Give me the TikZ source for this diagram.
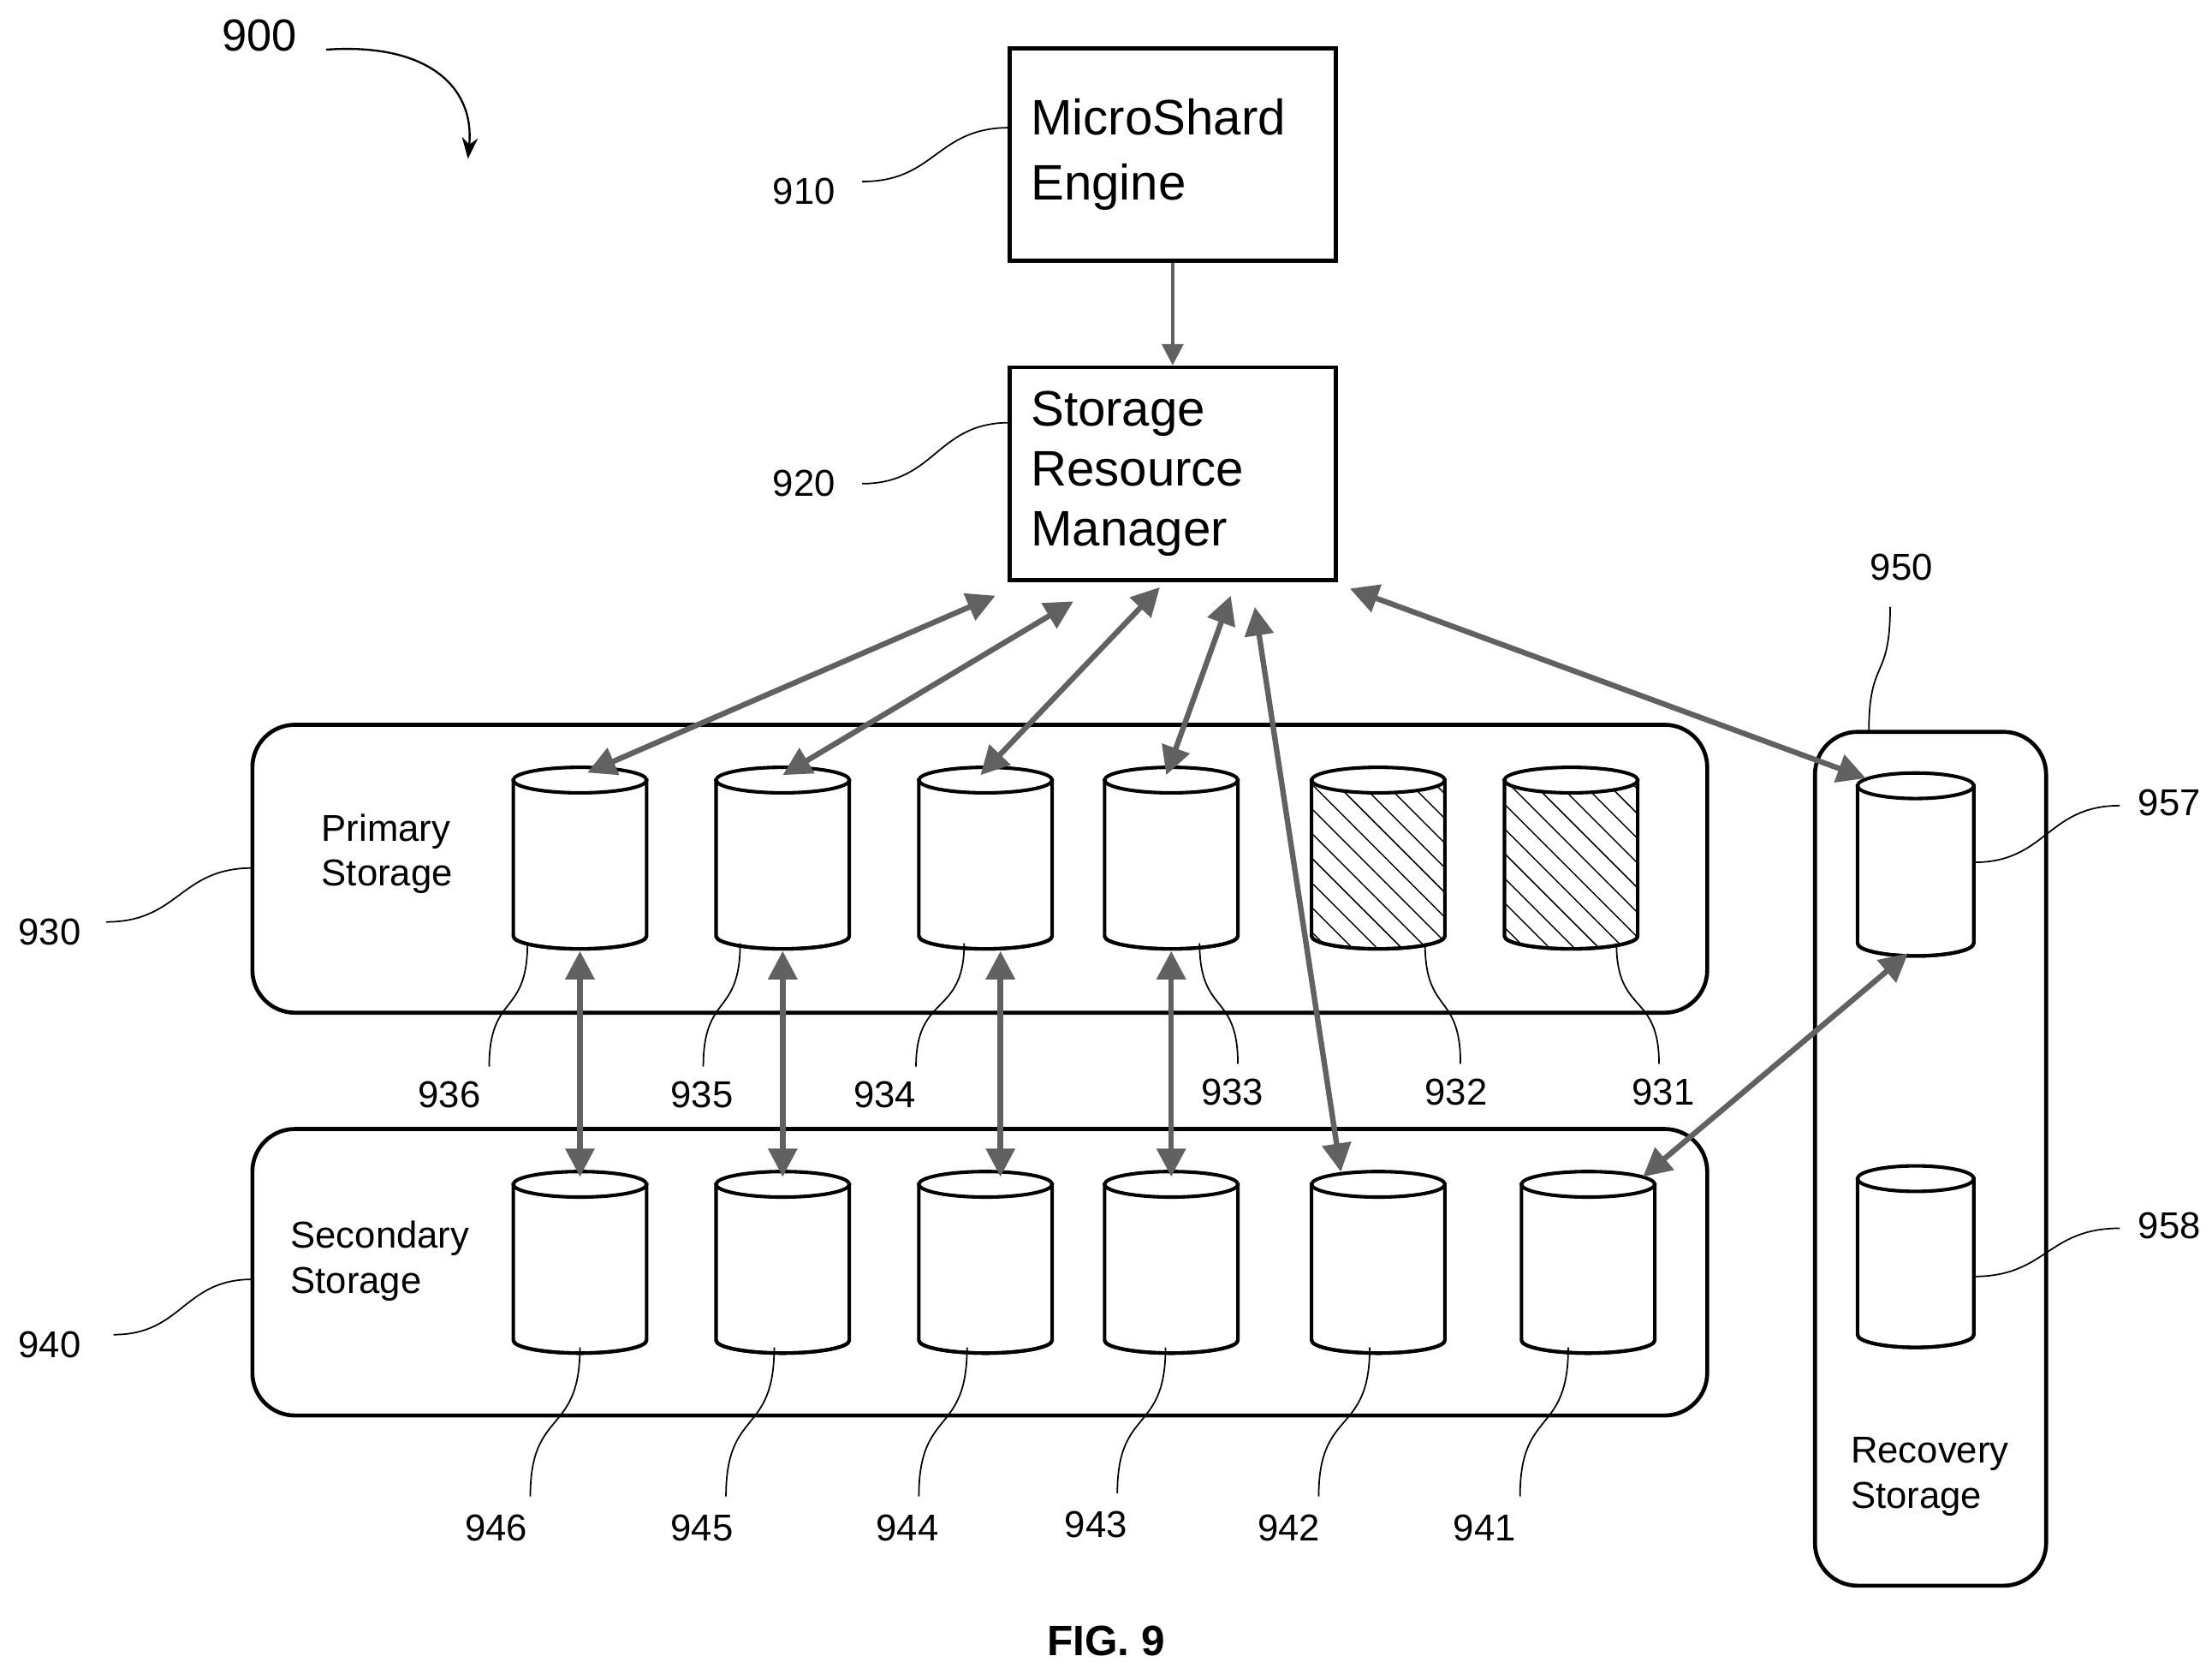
\documentclass[tikz,border=0pt]{standalone}
\usepackage{fontspec}
\setmainfont{Liberation Sans}
\usetikzlibrary{positioning}
\usetikzlibrary{arrows.meta}
\usetikzlibrary{patterns.meta}

\tikzset{
  box/.style={draw, line width=1.6pt, minimum width=45.4mm, minimum height=30mm, align=left, font=\fontsize{20}{26}\selectfont, text width=40mm, inner sep=3mm},
  group/.style={draw, line width=1.6pt, rounded corners=6mm},
  drumline/.style={draw, line width=1.4pt},
  hatch/.style={pattern={Lines[angle=-45, distance=7pt, line width=0.5pt]}},
  link/.style={draw=black!62, line width=2.2pt, {Triangle[length=4mm,width=4mm]}-{Triangle[length=4mm,width=4mm]}},
  lead/.style={draw, line width=0.6pt},
  num/.style={font=\fontsize{15}{18}\selectfont},
  txt/.style={font=\fontsize{15}{18}\selectfont, align=left}
}

% name, x, top, bottom, half width, fill option
\newcommand{\drum}[6]{%
  \path[drumline,#6] ({#2-#5},#3) -- ({#2-#5},#4)
    arc[start angle=180, end angle=360, x radius=#5*0.2mm, y radius=1.8mm]
    -- ({#2+#5},#3) -- cycle;
  \draw[drumline] ({#2-#5},#4) arc[start angle=180, end angle=360, x radius=#5*0.2mm, y radius=1.8mm];
  \draw[drumline, fill=white] (#2,#3) ellipse[x radius=#5*0.2mm, y radius=1.8mm];
  \coordinate (#1top) at (#2,#3);
  \coordinate (#1bot) at (#2,#4);
}
\newcommand{\vlead}[4]{%
  \draw[lead] (#1,#2) .. controls (#1,{#2+0.6*(#4-#2)}) and (#3,{#4-0.6*(#4-#2)}) .. (#3,#4);}
\newcommand{\hlead}[4]{%
  \draw[lead] (#1,#2) .. controls ({(#1+#3)/2},#2) and ({(#1+#3)/2},#4) .. (#3,#4);}

\begin{document}
\begin{tikzpicture}[x=0.2mm, y=-0.2mm]
  \useasboundingbox (0,0) rectangle (1560,1176);

  % top boxes
  \node[box] (engine) at (827,109) {MicroShard\\Engine};
  \node[box, font=\fontsize{20}{24}\selectfont] (srm) at (827,334) {Storage\\Resource\\Manager};
  \draw[draw=black!62, line width=1.4pt, -{Triangle[length=3mm,width=3mm]}] (engine.south) -- (srm.north);

  % groups
  \draw[group] (178,511) rectangle (1204,714);
  \draw[group] (178,796) rectangle (1204,998);
  \draw[group] (1280,516) rectangle (1443,1118);
  \node[txt] (prim) at (273,602) {Primary\\Storage};
  \node[txt] (sec) at (268,889) {Secondary\\Storage};
  \node[txt] (rec) at (1361,1041) {Recovery\\Storage};

  % primary drums
  \drum{p936}{409}{550}{660}{47}{fill=white}
  \drum{p935}{552}{550}{660}{47}{fill=white}
  \drum{p934}{695}{550}{660}{47}{fill=white}
  \drum{p933}{826}{550}{660}{47}{fill=white}
  \drum{p932}{972}{550}{660}{47}{hatch}
  \drum{p931}{1108}{550}{660}{47}{hatch}
  % secondary drums
  \drum{s946}{409}{835}{945}{47}{fill=white}
  \drum{s945}{552}{835}{945}{47}{fill=white}
  \drum{s944}{695}{835}{945}{47}{fill=white}
  \drum{s943}{826}{835}{945}{47}{fill=white}
  \drum{s942}{972}{835}{945}{47}{fill=white}
  \drum{s941}{1120}{835}{945}{47}{fill=white}
  % recovery drums
  \drum{r957}{1351}{554}{665}{41}{fill=white}
  \drum{r958}{1351}{831}{941}{41}{fill=white}

  % links
  \coordinate (m1) at (702,420);
  \coordinate (m2) at (757,424);
  \coordinate (m3) at (818,414);
  \coordinate (m4) at (868,420);
  \coordinate (m5) at (885,428);
  \coordinate (m6) at (952,415);
  \draw[link] (m1) -- ([xshift=3pt, yshift=3pt]p936top);
  \draw[link] (m2) -- ([yshift=2pt]p935top);
  \draw[link] (m3) -- ([xshift=-2pt, yshift=2pt]p934top);
  \draw[link] (m4) -- ([xshift=-2pt, yshift=2pt]p933top);
  \draw[link] (m5) -- ([xshift=-15pt, yshift=5pt]s942top);
  \draw[link] (m6) -- ([xshift=-20pt, yshift=3pt]r957top);
  \draw[link] ([yshift=-6pt]p936bot) -- ([yshift=3pt]s946top);
  \draw[link] ([yshift=-6pt]p935bot) -- ([yshift=3pt]s945top);
  \draw[link] ([xshift=6pt, yshift=-6pt]p934bot) -- ([xshift=6pt, yshift=3pt]s944top);
  \draw[link] ([yshift=-6pt]p933bot) -- ([yshift=3pt]s943top);
  \draw[link] ([xshift=-3pt, yshift=-4pt]r957bot) -- ([xshift=22pt, yshift=3pt]s941top);

  % reference numerals
  \node[num, font=\fontsize{18}{20}\selectfont] (n900) at (183,25) {900};
  \draw[lead, line width=0.8pt, -{Stealth[length=3mm]}] (230,35) .. controls (300,30) and (335,60) .. (330,112);
  \node[num] (n910) at (567,135) {910};
  \hlead{608}{128}{712}{90}
  \node[num] (n920) at (567,341) {920};
  \hlead{608}{341}{712}{298}
  \node[num] (n930) at (35,657) {930};
  \hlead{75}{650}{178}{612}
  \node[num] (n940) at (35,948) {940};
  \hlead{80}{941}{178}{902}
  \node[num] (n950) at (1341,400) {950};
  \vlead{1333}{428}{1318}{516}
  \node[num] (n957) at (1530,566) {957};
  \hlead{1392}{608}{1495}{568}
  \node[num] (n958) at (1530,864) {958};
  \hlead{1392}{900}{1495}{866}

  \node[num] (n936) at (317,772) {936};
  \node[num] (n935) at (495,772) {935};
  \node[num] (n934) at (624,772) {934};
  \node[num] (n933) at (869,770) {933};
  \node[num] (n932) at (1027,770) {932};
  \node[num] (n931) at (1173,770) {931};
  \vlead{372}{665}{345}{752}
  \vlead{522}{665}{496}{752}
  \vlead{680}{665}{646}{752}
  \vlead{846}{665}{873}{750}
  \vlead{1005}{665}{1030}{750}
  \vlead{1140}{665}{1170}{750}

  \node[num] (n946) at (350,1077) {946};
  \node[num] (n945) at (495,1077) {945};
  \node[num] (n944) at (640,1077) {944};
  \node[num] (n943) at (773,1075) {943};
  \node[num] (n942) at (909,1077) {942};
  \node[num] (n941) at (1047,1077) {941};
  \vlead{409}{950}{374}{1055}
  \vlead{546}{950}{512}{1055}
  \vlead{682}{950}{648}{1055}
  \vlead{822}{950}{788}{1053}
  \vlead{966}{950}{930}{1055}
  \vlead{1106}{950}{1072}{1055}

  \node[font=\bfseries\fontsize{17}{20}\selectfont] (fig) at (780,1157) {FIG. 9};
\end{tikzpicture}
\end{document}
